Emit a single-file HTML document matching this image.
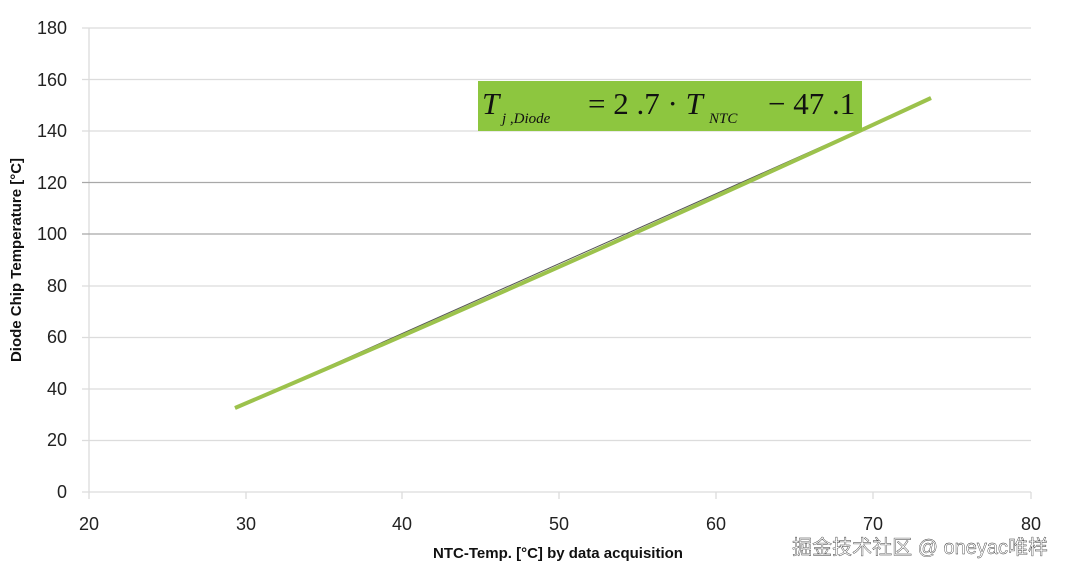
<!DOCTYPE html>
<html><head><style>
body{margin:0;background:#fff;}
</style></head><body>
<svg width="1066" height="579" xmlns="http://www.w3.org/2000/svg" font-family="Liberation Sans, sans-serif">
<g stroke="#dcdcdc" stroke-width="1.3">
<line x1="82" y1="28" x2="1031" y2="28"/>
<line x1="82" y1="79.5" x2="1031" y2="79.5"/>
<line x1="82" y1="131" x2="1031" y2="131"/>
<line x1="82" y1="286" x2="1031" y2="286"/>
<line x1="82" y1="337.5" x2="1031" y2="337.5"/>
<line x1="82" y1="389" x2="1031" y2="389"/>
<line x1="82" y1="440.5" x2="1031" y2="440.5"/>
<line x1="82" y1="492" x2="1031" y2="492"/>
<line x1="89" y1="28" x2="89" y2="499"/>
<line x1="246" y1="492" x2="246" y2="499"/>
<line x1="402" y1="492" x2="402" y2="499"/>
<line x1="559" y1="492" x2="559" y2="499"/>
<line x1="716" y1="492" x2="716" y2="499"/>
<line x1="873" y1="492" x2="873" y2="499"/>
<line x1="1031" y1="492" x2="1031" y2="499"/>
</g>
<g stroke="#a8a8a8" stroke-width="1.3">
<line x1="82" y1="182.5" x2="1031" y2="182.5"/>
<line x1="82" y1="234" x2="1031" y2="234"/>
</g>
<g font-size="18" fill="#222" text-anchor="end">
<text x="67" y="34">180</text><text x="67" y="86">160</text><text x="67" y="137">140</text>
<text x="67" y="189">120</text><text x="67" y="240">100</text><text x="67" y="292">80</text>
<text x="67" y="343">60</text><text x="67" y="395">40</text><text x="67" y="446">20</text><text x="67" y="498">0</text>
</g>
<g font-size="18" fill="#222" text-anchor="middle">
<text x="89" y="530">20</text><text x="246" y="530">30</text><text x="402" y="530">40</text>
<text x="559" y="530">50</text><text x="716" y="530">60</text><text x="873" y="530">70</text><text x="1031" y="530">80</text>
</g>
<text x="558" y="558" font-size="15" font-weight="bold" text-anchor="middle" fill="#111">NTC-Temp. [°C] by data acquisition</text>
<text transform="translate(21,260) rotate(-90)" font-size="15" font-weight="bold" text-anchor="middle" fill="#111">Diode Chip Temperature [°C]</text>
<line x1="235" y1="408" x2="931" y2="98" stroke="#555" stroke-width="1"/>
<path d="M235,408 Q575,263 931,98" fill="none" stroke="#9cc24c" stroke-width="4"/>
<rect x="478" y="81" width="384" height="50" fill="#8dc63f"/>
<g style="font-family:'Liberation Serif',serif" fill="#111">
<text x="482" y="114" font-size="31" font-style="italic">T</text>
<text x="502" y="123" font-size="15" font-style="italic">j ,Diode</text>
<text x="588" y="114" font-size="31">=  2 .7 · <tspan font-style="italic">T</tspan></text>
<text x="709" y="123" font-size="15" font-style="italic">NTC</text>
<text x="768" y="114" font-size="31">−  47 .1</text>
</g>
<text x="1048" y="554" font-size="20" fill="#fff" stroke="#333" stroke-width="0.4" text-anchor="end" style="font-family:'Liberation Sans','Noto Sans CJK SC',sans-serif">掘金技术社区 @ oneyac唯样</text>
</svg>
</body></html>
